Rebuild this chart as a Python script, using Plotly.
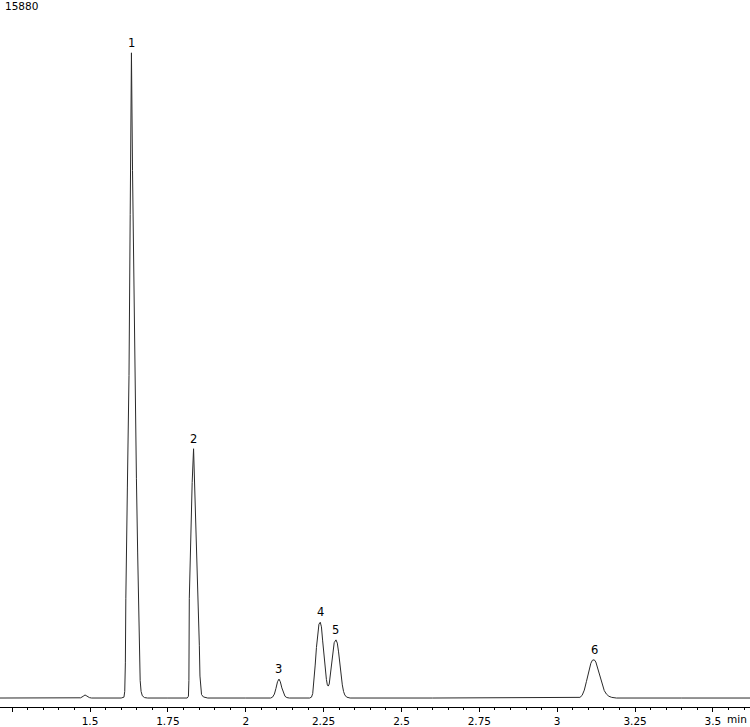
import plotly.graph_objects as go

# ─────────────────────────────────────────────
#  Chromatogram trace (time in min, signal in counts)
# ─────────────────────────────────────────────
lead_t = [1.211, 1.300, 1.400, 1.460, 1.470, 1.478, 1.484, 1.490, 1.498, 1.505, 1.550, 1.600]
lead_y = [0, 0, 0, 0, 5, 40, 70, 45, 10, 0, 0, 0]

peak1_t = [1.609, 1.6115, 1.6135, 1.615, 1.620, 1.6252, 1.629, 1.633,
           1.6365, 1.6405, 1.6445, 1.649, 1.653, 1.6565, 1.659, 1.661, 1.664, 1.668,
           1.675, 1.685, 1.750, 1.812]
peak1_y = [20, 150, 800, 2270, 4800, 7339, 11000, 14678,
           12000, 9300, 7339, 5000, 3300, 1900, 900, 400, 150, 50,
           10, 0, 0, 0]

peak2_t = [1.816, 1.8175, 1.8188, 1.8235, 1.828, 1.8325, 1.8365, 1.8405,
           1.8445, 1.848, 1.851, 1.853, 1.855, 1.858, 1.864, 1.878, 2.000, 2.080]
peak2_y = [40, 400, 2269, 3900, 4900, 5671, 4800, 3800,
           2900, 2100, 1200, 500, 200, 80, 25, 0, 0, 0]

peak3_t = [2.086, 2.092, 2.097, 2.102, 2.1067, 2.111, 2.116, 2.121, 2.126, 2.132, 2.140, 2.205]
peak3_y = [20, 90, 220, 370, 431, 370, 230, 110, 40, 10, 0, 0]

peak45_t = [2.211, 2.215, 2.219, 2.223, 2.227, 2.231, 2.235, 2.2393, 2.243, 2.247,
            2.251, 2.255, 2.259, 2.262, 2.265, 2.268, 2.272, 2.276, 2.280, 2.284,
            2.2897, 2.294, 2.298, 2.302, 2.306, 2.310, 2.314, 2.318, 2.324, 2.335,
            2.600, 2.900, 3.065]
peak45_y = [20, 100, 350, 750, 1150, 1500, 1680, 1724, 1620, 1300,
            950, 650, 420, 300, 272, 320, 550, 850, 1100, 1260,
            1323, 1250, 1050, 780, 520, 300, 150, 70, 20, 0,
            0, 0, 0]

peak6_t = [3.073, 3.080, 3.087, 3.094, 3.101, 3.108, 3.113, 3.119, 3.124, 3.130,
           3.137, 3.144, 3.151, 3.158, 3.166, 3.175, 3.190, 3.400, 3.619]
peak6_y = [15, 60, 180, 380, 610, 790, 860, 869, 820, 680,
           480, 300, 170, 90, 40, 15, 0, 0, 0]

# Peak annotations
peak_labels = ["1", "2", "3", "4", "5", "6"]
peak_times = [1.633, 1.8325, 2.1067, 2.2393, 2.2897, 3.119]
peak_heights = [14678, 5671, 431, 1724, 1323, 869]

# Axis
tick_values = [1.25, 1.5, 1.75, 2.0, 2.25, 2.5, 2.75, 3.0, 3.25, 3.5]
tick_labels = ["", "1.5", "1.75", "2", "2.25", "2.5", "2.75", "3", "3.25", "3.5"]
y_max_label = "15880"

time_min = lead_t + peak1_t + peak2_t + peak3_t + peak45_t + peak6_t
signal = lead_y + peak1_y + peak2_y + peak3_y + peak45_y + peak6_y

FONT = "DejaVu Sans, Verdana, sans-serif"

fig = go.Figure()
fig.add_trace(
    go.Scatter(
        x=time_min,
        y=signal,
        mode="lines",
        line=dict(color="#2a2a2a", width=1),
        hoverinfo="x+y",
        showlegend=False,
    )
)

# Peak numbers just above each apex
for lab, t, h in zip(peak_labels, peak_times, peak_heights):
    fig.add_annotation(
        x=t, y=h, text=lab, showarrow=False,
        yanchor="bottom", yshift=1,
        font=dict(family=FONT, size=11.5, color="#000000"),
    )

# Full-scale value top-left
fig.add_annotation(
    xref="paper", yref="paper", x=0, y=1, xanchor="left", yanchor="top",
    xshift=3, yshift=2, text=y_max_label, showarrow=False,
    font=dict(family=FONT, size=10.5, color="#000000"),
)

# Unit label after the last tick
fig.add_annotation(
    xref="x", yref="paper", x=3.577, y=0, yanchor="top", yshift=-4,
    text="min", showarrow=False,
    font=dict(family=FONT, size=10.5, color="#000000"),
)

fig.update_layout(
    width=750, height=727,
    margin=dict(l=0, r=0, t=0, b=16),
    paper_bgcolor="#ffffff",
    plot_bgcolor="#ffffff",
    font=dict(family=FONT, size=10.5, color="#000000"),
    showlegend=False,
)

fig.update_xaxes(
    range=[1.211, 3.619],
    tickmode="array", tickvals=tick_values, ticktext=tick_labels,
    ticks="outside", ticklen=4, tickcolor="#000000", tickwidth=1,
    showline=True, linecolor="#000000", linewidth=1,
    showgrid=False, zeroline=False,
    tickfont=dict(family=FONT, size=10.5, color="#000000"),
    minor=dict(tickmode="linear", tick0=0, dtick=0.05, ticks="outside",
               ticklen=2, tickcolor="#000000", showgrid=False),
)
fig.update_yaxes(range=[-204, 15880], visible=False, showgrid=False, zeroline=False)

# drop the page's default body margin so the figure sits at the window's corner
fig.write_html(
    "out.html",
    config={"displayModeBar": False},
    post_script="document.body.style.margin='0';",
)
